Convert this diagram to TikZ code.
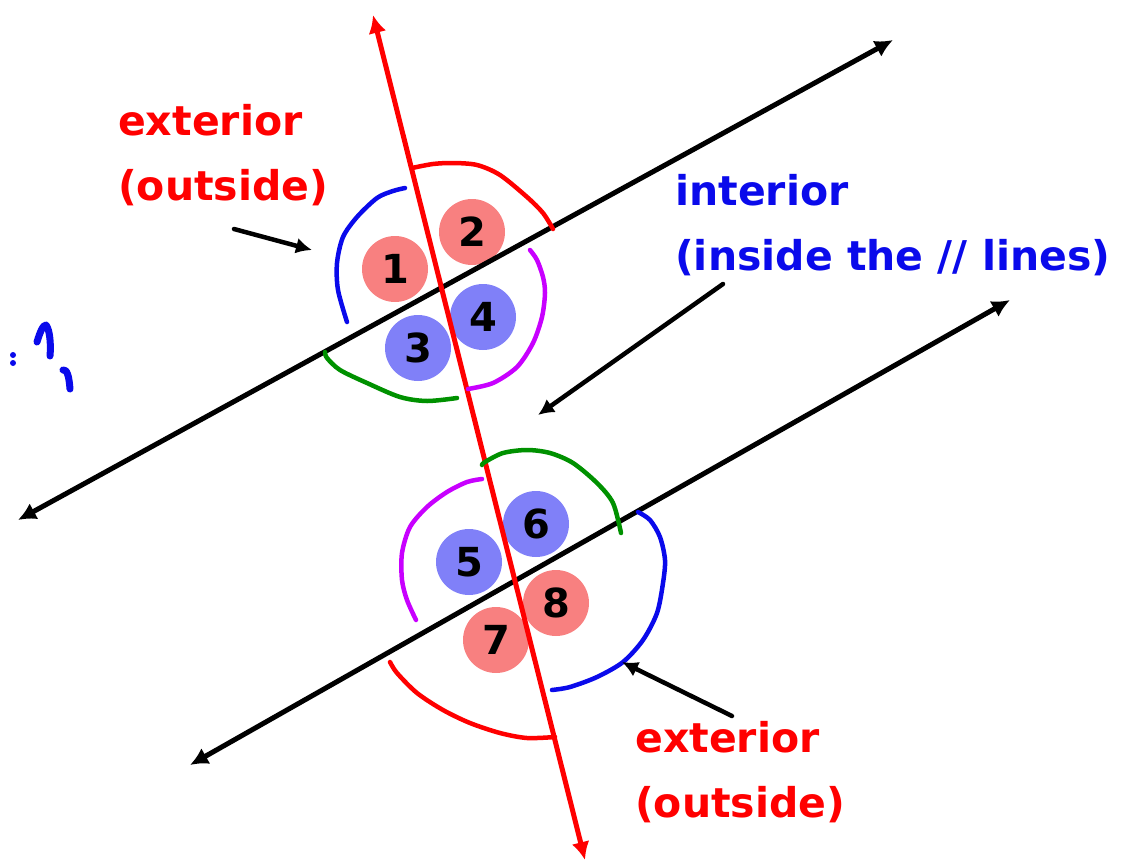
\documentclass[tikz,border=0pt]{standalone}
\usepackage{fontspec}
\setmainfont{DejaVu Sans}
\usetikzlibrary{arrows.meta}
\definecolor{lred}{RGB}{248,128,128}
\definecolor{lblue}{RGB}{128,128,248}
\definecolor{pred}{RGB}{255,0,0}
\definecolor{pblue}{RGB}{10,10,235}
\definecolor{pmag}{RGB}{200,0,255}
\definecolor{pgreen}{RGB}{0,145,0}
\tikzset{
  pline/.style={line width=5pt, line cap=round, {Latex[length=18pt,width=18pt]}-{Latex[length=18pt,width=18pt]}},
  pointer/.style={line width=4.5pt, line cap=round, -{Latex[length=16pt,width=16pt]}},
  arcstroke/.style={line width=4.5pt, line cap=round, line join=round},
  reddisc/.style={circle, fill=lred, minimum size=66pt, inner sep=0pt, font=\fontsize{40}{40}\selectfont\bfseries},
  bluedisc/.style={circle, fill=lblue, minimum size=66pt, inner sep=0pt, font=\fontsize{40}{40}\selectfont\bfseries},
  lbl/.style={anchor=base west, inner sep=0pt, font=\fontsize{41}{48}\selectfont\bfseries}
}
\begin{document}
\begin{tikzpicture}[x=1pt,y=-1pt]
\useasboundingbox (0,0) rectangle (1140,865);
% angle discs
\node[reddisc]  (n1) at (395,269) {1};
\node[reddisc]  (n2) at (472,232) {2};
\node[bluedisc] (n3) at (418,348) {3};
\node[bluedisc] (n4) at (483,317) {4};
\node[bluedisc] (n5) at (469,562) {5};
\node[bluedisc] (n6) at (536,524) {6};
\node[reddisc]  (n7) at (496,640) {7};
\node[reddisc]  (n8) at (556,603) {8};
% line ends
\coordinate (t1) at (18,520);
\coordinate (t2) at (893,40);
\coordinate (b1) at (190,765);
\coordinate (b2) at (1010,300);
\coordinate (r1) at (373,15);
\coordinate (r2) at (585,860);
\draw[pline] (t1) -- (t2);
\draw[pline] (b1) -- (b2);
\draw[pline, pred] (r1) -- (r2);
% arcs, upper intersection
\draw[arcstroke, pred] plot[smooth] coordinates {(412,168) (433,164) (453,163) (477,165) (500,175) (527,197) (543,213) (553,229)};
\draw[arcstroke, pblue] plot[smooth] coordinates {(405,188) (393,191) (377,198) (357,217) (343,237) (337,263) (338,290) (347,322)};
\draw[arcstroke, pmag] plot[smooth] coordinates {(530,250) (537,260) (543,277) (545,293) (542,317) (533,343) (517,367) (493,383) (468,389)};
\draw[arcstroke, pgreen] plot[smooth] coordinates {(325,352) (327,358) (340,370) (367,383) (400,397) (427,401) (457,398)};
% arcs, lower intersection
\draw[arcstroke, pgreen] plot[smooth] coordinates {(482,465) (485,462) (503,453) (527,450) (550,453) (573,463) (597,483) (613,503) (621,533)};
\draw[arcstroke, pmag] plot[smooth] coordinates {(482,479) (467,482) (447,492) (427,507) (410,527) (402,553) (402,580) (407,600) (416,620)};
\draw[arcstroke, pred] plot[smooth] coordinates {(390,662) (397,673) (417,693) (443,710) (470,723) (500,733) (527,738) (555,737)};
\draw[arcstroke, pblue] plot[smooth] coordinates {(638,512) (650,520) (660,537) (665,560) (663,583) (657,613) (643,640) (623,662) (597,677) (570,687) (552,690)};
% labels
\node[lbl, text=pred] (ext1) at (118,135) {exterior};
\node[lbl, text=pred] (ext1b) at (118,200) {(outside)};
\node[lbl, text=pblue] (int1) at (675,205) {interior};
\node[lbl, text=pblue] (int1b) at (675,270) {(inside the // lines)};
\node[lbl, text=pred] (ext2) at (635,752) {exterior};
\node[lbl, text=pred] (ext2b) at (635,817) {(outside)};
% pointers
\coordinate (p1s) at (234,229);
\coordinate (p1e) at (312,250);
\coordinate (p2s) at (723,284);
\coordinate (p2e) at (538,415);
\coordinate (p3s) at (732,716);
\coordinate (p3e) at (622,662);
\draw[pointer] (p1s) -- (p1e);
\draw[pointer] (p2s) -- (p2e);
\draw[pointer] (p3s) -- (p3e);
% stray blue marks at left
\fill[pblue] (13,355) circle (3);
\fill[pblue] (13,363) circle (3);
\draw[line width=7pt, line cap=round, line join=round, pblue] (37,342) .. controls (40,332) and (43,325) .. (46,325) .. controls (50,330) and (51,345) .. (50,356);
\draw[line width=7pt, line cap=round, line join=round, pblue] (63,370) .. controls (67,369) and (69,376) .. (70,389);
\end{tikzpicture}
\end{document}
